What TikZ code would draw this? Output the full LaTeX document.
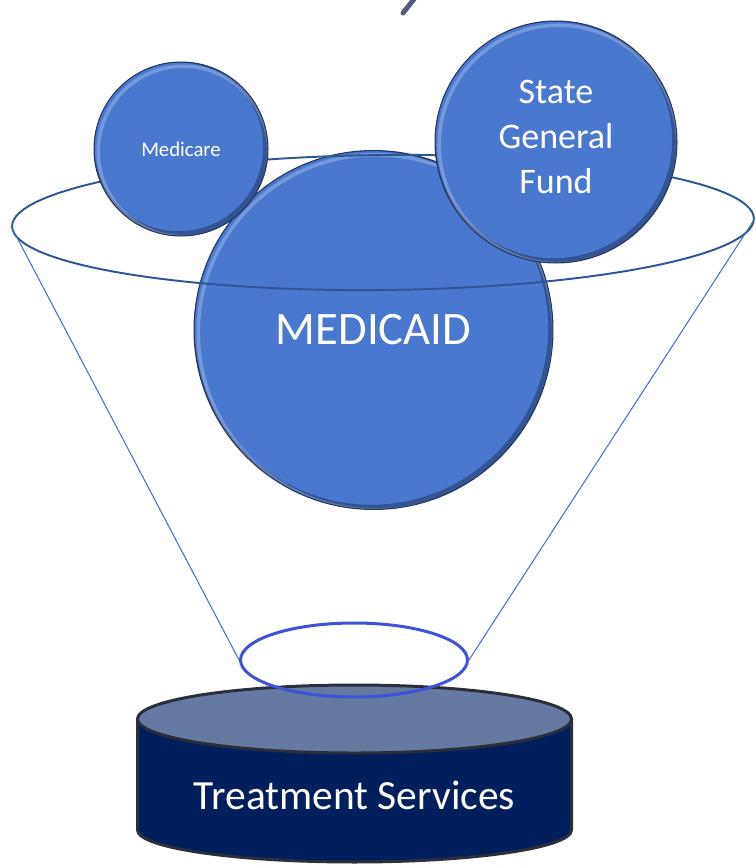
\documentclass[tikz,border=0pt]{standalone}
\usepackage{fontspec}
\setmainfont{Carlito}
\usetikzlibrary{shapes,calc,positioning}
\definecolor{fundblue}{RGB}{72,121,207}
\definecolor{fundedge}{RGB}{34,52,96}
\definecolor{rimblue}{RGB}{47,85,151}
\definecolor{funnelblue}{RGB}{68,114,196}
\definecolor{neckblue}{RGB}{64,82,216}
\definecolor{tanktop}{RGB}{102,121,160}
\definecolor{tankbody}{RGB}{0,31,92}
\definecolor{tankline}{RGB}{44,47,58}
\definecolor{titlegray}{RGB}{82,92,122}
\newcommand\ppbb{path picture bounding box}
\tikzset{
    fund/.style = {circle, fill=fundblue, draw=fundedge, line width=0.6pt,
        text=white, align=center, inner sep=0pt,
        path picture={
            \draw[fundedge, line width=3pt, opacity=0.55]
                let \p1 = ($(\ppbb.north east)-(\ppbb.center)$) in
                ([shift={(-1.2pt,1.2pt)}]\ppbb.center) circle [radius=\x1];
            \draw[white, line width=2pt, opacity=0.25]
                let \p1 = ($(\ppbb.north east)-(\ppbb.center)$) in
                ([shift={(1.4pt,-1.4pt)}]\ppbb.center) circle [radius=\x1-1pt];
        },% end of path picture
    },
    fundtext/.style = {text=white, align=center, inner sep=0pt},
    rim/.style = {ellipse, draw=rimblue, line width=1.1pt, inner sep=0pt},
    neck/.style = {ellipse, draw=neckblue, line width=1.7pt, inner sep=0pt},
    funnel/.style = {draw=funnelblue, line width=0.6pt},
    tank/.style = {draw=tankline, line width=1.7pt},
}
\begin{document}
\begin{tikzpicture}[x=0.02cm, y=-0.02cm]
	\clip (0,0) rectangle (755,865);
	
	% piece of the title
	\draw[titlegray, line width=2.8pt, line cap=round] (403,13) -- (418,-6);
	
	% treatment tank
	\draw[tank, fill=tankbody] (137.5,719) -- (137.5,830)
		arc[start angle=180, end angle=0, x radius=217, y radius=32] -- (571.5,719) -- cycle;
	\draw[tank, fill=tanktop] (354.5,719) ellipse [x radius=217, y radius=34];
	\node (treat) [text=white, font=\fontsize{23.6}{28}\selectfont] at (354.5,795) {Treatment Services};
	
	% funnel and funds
	\node (medicaid) [fund, minimum size=7.18cm, font=\fontsize{26.5}{30}\selectfont] at (373.5,330) {MEDICAID};
	\node (rim) [rim, minimum width=14.84cm, minimum height=2.7cm, rotate=0.6] at (383,222.5) {};
	\node (neck) [neck, minimum width=4.54cm, minimum height=1.48cm] at (354,660) {};
	\draw[funnel] (rim.west) -- (neck.west);
	\draw[funnel] (rim.east) -- (neck.east);
	\node (medicare) [fund, minimum size=3.48cm, font=\fontsize{11.8}{14}\selectfont] at (181,149) {Medicare};
	\node (state) [fund, minimum size=4.84cm] at (556,142) {};
	\node (stateText) [fundtext, font=\fontsize{20.5}{25.5}\selectfont] at ([yshift=0.1cm]state.center) {State\\General\\Fund};
	
\end{tikzpicture}
\end{document}
